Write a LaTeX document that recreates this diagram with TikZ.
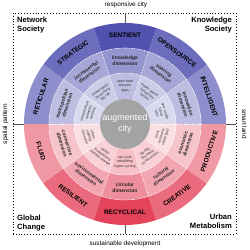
\documentclass[tikz,border=0pt]{standalone}
\usepackage{fontspec}
\setmainfont{Liberation Sans}
\usepackage{tikz}
\usetikzlibrary{positioning}
\definecolor{netblue}{RGB}{72,72,172}
\definecolor{metred}{RGB}{226,58,82}
\definecolor{axisgray}{RGB}{80,80,80}
\definecolor{coregray}{RGB}{163,163,163}

\tikzset{
    ringlabel/.style={font=\fontsize{6.5}{7}\selectfont\bfseries, inner sep=0pt},
    dimlabel/.style={font=\fontsize{5}{5.6}\selectfont\bfseries, align=center, inner sep=0pt, text=black!85},
    toollabel/.style={font=\fontsize{3.6}{4.3}\selectfont, align=center, inner sep=0pt, text=black!80},
    cornerlabel/.style={font=\fontsize{7.6}{9}\selectfont\bfseries, inner sep=0pt},
    axislabel/.style={font=\fontsize{6.4}{7}\selectfont, inner sep=0pt},
}

% start angle, inner radius, outer radius, colour
\newcommand{\ringpart}[4]{%
    \fill[fill=#4] ({#1}:#2pt) arc[start angle={#1}, delta angle=36, radius=#2pt]
        -- ({#1+36}:#3pt) arc[start angle={#1+36}, delta angle=-36, radius=#3pt] -- cycle;}

\begin{document}
\begin{tikzpicture}[x=1pt, y=1pt]
    \useasboundingbox (-125,-126) rectangle (125,124);
    % frame and axes
    \coordinate (west) at (-112,0);
    \coordinate (east) at (111,0);
    \coordinate (north) at (0,111);
    \coordinate (south) at (0,-110);
    \draw[dotted, line width=0.9pt] (-112,-110) rectangle (111,111);
    \draw[axisgray, line width=0.5pt] (west) -- (east);
    \draw[axisgray, line width=0.5pt] (north) -- (south);

    % rings
    \foreach \ang/\oc/\mc/\ic in {18/netblue!62/netblue!36/netblue!20, 54/netblue!80/netblue!48/netblue!28,
        90/netblue!95/netblue!58/netblue!36, 126/netblue!80/netblue!48/netblue!28, 162/netblue!62/netblue!36/netblue!20,
        198/metred!52/metred!30/metred!16, 234/metred!75/metred!45/metred!24, 270/metred!95/metred!58/metred!32,
        306/metred!75/metred!45/metred!24, 342/metred!52/metred!30/metred!16}{
        \ringpart{\ang-18}{76}{101}{\oc}
        \ringpart{\ang-18}{51}{76}{\mc}
        \ringpart{\ang-18}{25}{51}{\ic}
    }
    \foreach \b in {0,36,...,324}
        \draw[white, dashed, line width=0.6pt, dash pattern=on 1.2pt off 1.4pt] (\b:25pt) -- (\b:76pt);
    \draw[white, line width=0.6pt, dash pattern=on 1.2pt off 1.4pt] (0,0) circle[radius=51pt];
    \draw[white, line width=0.6pt, dash pattern=on 1.2pt off 1.4pt] (0,0) circle[radius=76pt];
    \fill[coregray] (0,0) circle[radius=25pt];
    \node[font=\fontsize{9}{11}\selectfont, text=white, align=center] (core) at (0,0) {augmented\\city};

    \foreach \ang/\otxt/\mtxt/\itxt in {
        18/INTELLIGENT/{innovation\\dimension}/{new media\\living\\labs},
        54/OPENSOURCE/{sharing\\dimension}/{public space\\temporary\\tactics},
        90/SENTIENT/{knowledge\\dimension}/{open data\\sensors\\apps},
        126/STRATEGIC/{incremental\\dimension}/{makerspace\\3d printing\\fab lab},
        162/RETICULAR/{metropolitan\\dimension}/{infrastructure\\networks\\territory},
        198/FLUID/{connective\\dimension}/{urban\\mobility\\transport},
        234/RESILIENT/{environmental\\dimension}/{safety\\ecosystems\\climate change},
        270/RECYCLICAL/{circular\\dimension}/{up-cycle\\retrofitting\\hyper-cycling},
        306/CREATIVE/{cultural\\dimension}/{identity\\branding\\communities},
        342/PRODUCTIVE/{economic\\dimension}/{local\\economy\\urban food}}{
        \pgfmathsetmacro\rot{\ang<180 ? \ang-90 : \ang+90}
        \node[ringlabel, rotate=\rot] (o-\ang) at (\ang:88.5pt) {\otxt};
        \node[dimlabel, rotate=\rot] (m-\ang) at (\ang:63.5pt) {\mtxt};
        \node[toollabel, rotate=\rot] (i-\ang) at (\ang:38pt) {\itxt};
    }

    % corners
    \node[cornerlabel, align=left, anchor=north west] (netsoc) at (-108,107) {Network\\Society};
    \node[cornerlabel, align=right, anchor=north east] (knowsoc) at (107,107) {Knowledge\\Society};
    \node[cornerlabel, align=left, anchor=south west] (global) at (-108,-107) {Global\\Change};
    \node[cornerlabel, align=right, anchor=south east] (urban) at (107,-105) {Urban\\Metabolism};

    % axis labels
    \node[axislabel] (resp) at (1,119) {responsive city};
    \node[axislabel] (sust) at (0,-120) {sustainable development};
    \node[axislabel, rotate=90] (spat) at (-119.5,0) {spatial pattern};
    \node[axislabel, rotate=-90] (smart) at (119.5,0) {smart land};
\end{tikzpicture}
\end{document}
